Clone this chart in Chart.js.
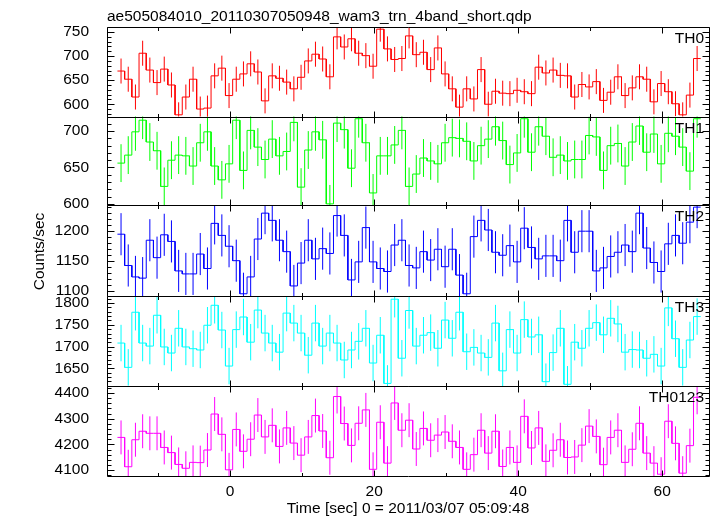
<!DOCTYPE html>
<html><head><meta charset="utf-8">
<script src="https://cdn.jsdelivr.net/npm/chart.js@4/dist/chart.umd.min.js"></script>
<style>html,body{margin:0;padding:0;background:#fff;}</style>
</head><body>
<canvas id="c" width="717" height="516" style="display:block;width:717px;height:516px"></canvas>
<script>
const TITLE = "ae505084010_20110307050948_wam3_trn_4band_short.qdp";
const X_TITLE = "Time [sec] 0 = 2011/03/07 05:09:48";
const Y_TITLE = "Counts/sec";

// bin centres (s)
const TIME = [-15.15,-14.15,-13.15,-12.15,-11.15,-10.15,-9.15,-8.15,-7.15,-6.15,-5.15,-4.15,-3.15,-2.15,-1.15,-0.15,
0.85,1.85,2.85,3.85,4.85,5.85,6.85,7.85,8.85,9.85,10.85,11.85,12.85,13.85,14.85,15.85,16.85,17.85,18.85,19.85,
20.85,21.85,22.85,23.85,24.85,25.85,26.85,27.85,28.85,29.85,30.85,31.85,32.85,33.85,34.85,35.85,36.85,37.85,38.85,39.85,
40.85,41.85,42.85,43.85,44.85,45.85,46.85,47.85,48.85,49.85,50.85,51.85,52.85,53.85,54.85,55.85,56.85,57.85,58.85,59.85,
60.85,61.85,62.85,63.85,64.85];
const HALF_BIN = 0.5;

const TH0 = [669,652,615,706,671,645,673,640,578,615, 652,590,592,659,675,618,652,663,684,667,
607,659,654,646,632,656,690,704,694,657, 740,719,736,706,701,679,756,715,693,695,
742,703,708,672,717,663,632,594,632,611, 672,600,627,623,622,629,626,622,677,665,
671,660,659,615,641,636,647,608,625,657, 618,634,657,652,605,643,626,601,578,619, 695];
const TH1 = [656,667,699,715,685,673,624,660,667,666, 652,684,699,652,633,655,715,646,701,678,
661,689,666,672,712,623,674,699,688,600, 711,702,649,717,684,615,666,666,681,701,
624,641,663,659,655,684,691,690,686,659, 680,689,706,687,654,670,717,671,706,693,
664,667,659,661,661,694,692,646,680,683, 652,685,707,671,696,655,697,693,678,645, 717];
const TH2 = [1194,1142,1123,1121,1184,1155,1193,1182,1133,1128, 1128,1161,1137,1212,1192,1174,1150,1095,1123,1186,
1229,1217,1184,1165,1108,1146,1184,1153,1170,1162, 1225,1192,1118,1148,1205,1148,1137,1132,1176,1184,
1142,1138,1165,1151,1169,1140,1169,1126,1095,1190, 1217,1201,1164,1159,1175,1148,1204,1172,1153,1158,
1158,1150,1217,1164,1199,1199,1133,1138,1157,1164, 1176,1165,1229,1171,1147,1132,1178,1192,1179,1214, 1239];
const TH3 = [1708,1652,1779,1708,1701,1772,1699,1685,1742,1699, 1695,1692,1749,1795,1738,1655,1739,1768,1710,1784,
1731,1708,1687,1777,1754,1731,1680,1754,1701,1731, 1708,1669,1692,1712,1742,1662,1726,1615,1809,1673,
1783,1701,1726,1732,1696,1761,1719,1779,1688,1698, 1685,1675,1754,1644,1739,1685,1762,1722,1727,1619,
1686,1742,1613,1710,1696,1742,1755,1727,1765,1752, 1687,1693,1692,1673,1682,1655,1789,1718,1652,1715, 1769];
const TH0123 = [4227,4113,4218,4251,4243,4243,4188,4168,4122,4107, 4130,4129,4178,4318,4239,4101,4258,4173,4220,4314,
4229,4274,4192,4264,4205,4158,4229,4312,4252,4148, 4386,4281,4196,4282,4334,4103,4286,4127,4361,4255,
4294,4182,4262,4216,4236,4248,4212,4188,4103,4160, 4255,4166,4251,4114,4188,4130,4309,4186,4264,4134,
4177,4218,4149,4151,4197,4271,4231,4121,4227,4255, 4130,4181,4282,4166,4127,4084,4290,4204,4088,4195, 4383];

// 1-sigma error half-widths
const TH0_ERR = 26, TH1_ERR = 26, TH2_ERR = 35, TH3_ERR = 42, TH0123_ERR = 66;

// tick labels
const X_TICKS = [0, 20, 40, 60];
const X_MINOR = [-10, 10, 30, 50];
const TH0_TICKS = [600, 650, 700, 750];
const TH1_TICKS = [600, 650, 700];
const TH2_TICKS = [1100, 1150, 1200];
const TH3_TICKS = [1650, 1700, 1750, 1800];
const TH0123_TICKS = [4100, 4200, 4300, 4400];

const FONT = "'Liberation Sans', Arial, Helvetica, sans-serif";
const FS = 15.5;

const PANELS = [
  {id:'y0', name:'TH0',    vals:TH0,    err:TH0_ERR,    ticks:TH0_TICKS,    minor:10, min:574.4, max:760.5, color:'#ff0000', h:89.5},
  {id:'y1', name:'TH1',    vals:TH1,    err:TH1_ERR,    ticks:TH1_TICKS,    minor:10, min:598,   max:720,   color:'#00ff00', h:88.7},
  {id:'y2', name:'TH2',    vals:TH2,    err:TH2_ERR,    ticks:TH2_TICKS,    minor:10, min:1091,  max:1242,  color:'#0000ff', h:90.8},
  {id:'y3', name:'TH3',    vals:TH3,    err:TH3_ERR,    ticks:TH3_TICKS,    minor:10, min:1608.5,max:1816,  color:'#00ffff', h:90},
  {id:'y4', name:'TH0123', vals:TH0123, err:TH0123_ERR, ticks:TH0123_TICKS, minor:20, min:4077,  max:4426,  color:'#ff00ff', h:89.7}
];

function stepData(vals){
  const d = [];
  TIME.forEach((t,i)=>{ d.push({x:t-HALF_BIN, y:vals[i]}); d.push({x:t+HALF_BIN, y:vals[i]}); });
  return d;
}
function errData(vals, err){
  const d = [];
  TIME.forEach((t,i)=>{ d.push({x:t, y:vals[i]-err}); d.push({x:t, y:vals[i]+err}); d.push({x:t, y:null}); });
  return d;
}

const datasets = [];
PANELS.forEach(p=>{
  datasets.push({data:errData(p.vals,p.err), yAxisID:p.id, xAxisID:'x', borderColor:p.color, borderWidth:1,
    pointRadius:0, tension:0, spanGaps:false, fill:false, clip:0});
  datasets.push({data:stepData(p.vals), yAxisID:p.id, xAxisID:'x', borderColor:p.color, borderWidth:1,
    pointRadius:0, tension:0, fill:false, clip:0});
});

const plain = v => String(v);

const scales = {
  x: {type:'linear', position:'bottom', min:-17.1, max:66.5,
    grid:{display:false}, border:{display:false},
    afterBuildTicks: s => { s.ticks = X_TICKS.map(v=>({value:v})); },
    afterFit: s => { s.height = 40; },
    ticks:{color:'#000', font:{family:FONT, size:FS}, padding:-2, autoSkip:false, maxRotation:0, callback:plain},
    title:{display:true, text:X_TITLE, color:'#000', font:{family:FONT, size:FS, lineHeight:1.0}, padding:{top:0,bottom:0}}
  }
};
PANELS.forEach((p,k)=>{
  scales[p.id] = {type:'linear', position:'left', stack:'panels', stackWeight:p.h, weight:10-k,
    min:p.min, max:p.max, grid:{display:false}, border:{display:false},
    afterBuildTicks: s => { s.ticks = p.ticks.map(v=>({value:v})); },
    afterFit: s => { s.width = 107; },
    ticks:{color:'#000', font:{family:FONT, size:FS}, padding:10, autoSkip:false, callback:plain}
  };
});

const framePlugin = {
  id:'frame',
  afterDatasetsDraw(chart){
    const ctx = chart.ctx, ca = chart.chartArea, xs = chart.scales.x;
    ctx.save();
    ctx.strokeStyle = '#000'; ctx.lineWidth = 1;
    PANELS.forEach(p=>{
      const s = chart.scales[p.id];
      const top = Math.round(s.top)+0.5, bot = Math.round(s.bottom)+0.5;
      const L = Math.round(ca.left)+0.5, R = Math.round(ca.right)+0.5;
      ctx.beginPath();
      ctx.rect(L, top, R-L, bot-top);
      const start = Math.ceil(p.min / p.minor) * p.minor;
      for (let v = start; v <= p.max; v += p.minor) {
        const y = Math.round(s.getPixelForValue(v))+0.5;
        const len = p.ticks.includes(v) ? 7 : 4;
        ctx.moveTo(L, y); ctx.lineTo(L+len, y);
        ctx.moveTo(R, y); ctx.lineTo(R-len, y);
      }
      X_TICKS.concat(X_MINOR).forEach(v=>{
        const x = Math.round(xs.getPixelForValue(v))+0.5;
        const len = X_TICKS.includes(v) ? 6 : 3.5;
        ctx.moveTo(x, top); ctx.lineTo(x, top+len);
        ctx.moveTo(x, bot); ctx.lineTo(x, bot-len);
      });
      ctx.stroke();
      ctx.fillStyle = '#000';
      ctx.font = FS + 'px ' + FONT;
      ctx.textAlign = 'right'; ctx.textBaseline = 'alphabetic';
      ctx.fillText(p.name, ca.right - 5, s.top + 16);
    });
    ctx.restore();
  },
  afterDraw(chart){
    const ctx = chart.ctx, ca = chart.chartArea;
    ctx.save();
    ctx.fillStyle = '#000';
    ctx.font = FS + 'px ' + FONT;
    ctx.textAlign = 'left'; ctx.textBaseline = 'alphabetic';
    ctx.fillText(TITLE, ca.left, 20.5);
    ctx.translate(40, (ca.top + ca.bottom)/2);
    ctx.rotate(-Math.PI/2);
    ctx.textAlign = 'center'; ctx.textBaseline = 'middle';
    ctx.fillText(Y_TITLE, 0, 0);
    ctx.restore();
  }
};

new Chart(document.getElementById('c'), {
  type:'line',
  data:{datasets},
  options:{
    responsive:false, animation:false, events:[],
    layout:{padding:{top:27, left:0, right:8, bottom:0}},
    plugins:{legend:{display:false}, tooltip:{enabled:false}, title:{display:false}},
    scales
  },
  plugins:[framePlugin]
});
</script>
</body></html>
